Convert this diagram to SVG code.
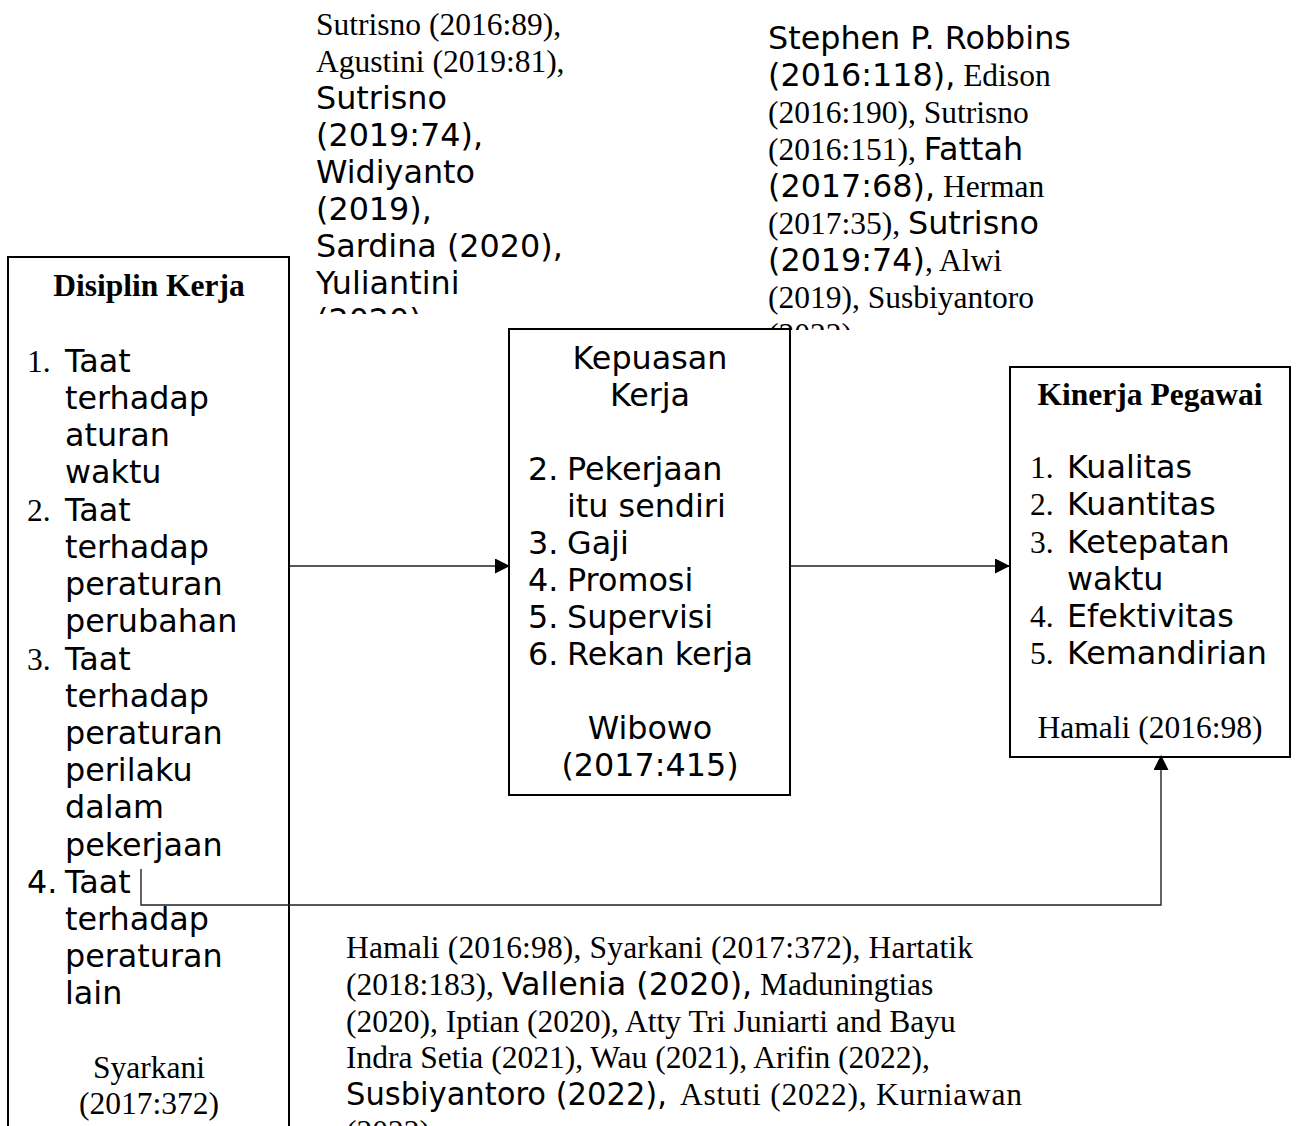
<svg xmlns="http://www.w3.org/2000/svg" width="1298" height="1126" viewBox="0 0 1298 1126">
<style>
.s{font-family:"DejaVu Sans",sans-serif;font-size:31.8px;fill:#000}
.r{font-family:"Liberation Serif",serif;font-size:31.5px;fill:#000}
.b{font-family:"Liberation Serif",serif;font-size:31.5px;font-weight:bold;fill:#000}
.box{fill:#fff;stroke:#000;stroke-width:2}
.con{fill:none;stroke:#222;stroke-width:1.4}
.c{text-anchor:middle}
</style>
<defs>
<marker id="ah" viewBox="0 0 15 15" refX="14" refY="7.5" markerWidth="15" markerHeight="15" markerUnits="userSpaceOnUse" orient="auto">
<path d="M0,0 L15,7.5 L0,15 Z" fill="#000"/>
</marker>
<clipPath id="clipTL"><rect x="300" y="0" width="300" height="314"/></clipPath>
<clipPath id="clipTR"><rect x="760" y="0" width="330" height="330"/></clipPath>
</defs>
<rect width="1298" height="1126" fill="#fff"/>

<g id="refs-top-left" clip-path="url(#clipTL)">
<text class="r" x="316" y="35">Sutrisno (2016:89),</text>
<text class="r" x="316" y="72">Agustini (2019:81),</text>
<text class="s" x="316" y="109">Sutrisno</text>
<text class="s" x="316" y="146">(2019:74),</text>
<text class="s" x="316" y="183">Widiyanto</text>
<text class="s" x="316" y="220">(2019),</text>
<text class="s" x="316" y="257">Sardina (2020),</text>
<text class="s" x="316" y="294">Yuliantini</text>
<text class="s" x="316" y="331">(2020),</text>
</g>

<g id="refs-top-right" clip-path="url(#clipTR)">
<text class="s" x="768" y="49">Stephen P. Robbins</text>
<text x="768" y="86"><tspan class="s">(2016:118),</tspan><tspan class="r"> Edison</tspan></text>
<text class="r" x="768" y="123">(2016:190), Sutrisno</text>
<text x="768" y="160"><tspan class="r">(2016:151), </tspan><tspan class="s">Fattah</tspan></text>
<text x="768" y="197"><tspan class="s">(2017:68),</tspan><tspan class="r"> Herman</tspan></text>
<text x="768" y="234"><tspan class="r">(2017:35), </tspan><tspan class="s">Sutrisno</tspan></text>
<text x="768" y="271"><tspan class="s">(2019:74)</tspan><tspan class="r">, Alwi</tspan></text>
<text class="r" x="768" y="308">(2019), Susbiyantoro</text>
<text class="r" x="768" y="345">(2022)</text>
</g>

<g id="node-disiplin">
<rect class="box" x="8" y="257" width="281" height="900"/>
<text class="b c" x="149" y="296">Disiplin Kerja</text>
<text class="r" x="27" y="372">1.</text>
<text class="s" x="65" y="372">Taat</text>
<text class="s" x="65" y="409">terhadap</text>
<text class="s" x="65" y="446">aturan</text>
<text class="s" x="65" y="483">waktu</text>
<text class="r" x="27" y="521">2.</text>
<text class="s" x="65" y="521">Taat</text>
<text class="s" x="65" y="558">terhadap</text>
<text class="s" x="65" y="595">peraturan</text>
<text class="s" x="65" y="632">perubahan</text>
<text class="r" x="27" y="670">3.</text>
<text class="s" x="65" y="670">Taat</text>
<text class="s" x="65" y="707">terhadap</text>
<text class="s" x="65" y="744">peraturan</text>
<text class="s" x="65" y="781">perilaku</text>
<text class="s" x="65" y="818">dalam</text>
<text class="s" x="65" y="856">pekerjaan</text>
<text class="s" x="27" y="893">4.</text>
<text class="s" x="65" y="893">Taat</text>
<text class="s" x="65" y="930">terhadap</text>
<text class="s" x="65" y="967">peraturan</text>
<text class="s" x="65" y="1004">lain</text>
<text class="r c" x="149" y="1078">Syarkani</text>
<text class="r c" x="149" y="1114">(2017:372)</text>
</g>

<g id="node-kepuasan">
<rect class="box" x="509" y="329" width="281" height="466"/>
<text class="s c" x="650" y="369">Kepuasan</text>
<text class="s c" x="650" y="406">Kerja</text>
<text class="s" x="528" y="480">2.</text>
<text class="s" x="567" y="480">Pekerjaan</text>
<text class="s" x="567" y="517">itu sendiri</text>
<text class="s" x="528" y="554">3.</text>
<text class="s" x="567" y="554">Gaji</text>
<text class="s" x="528" y="591">4.</text>
<text class="s" x="567" y="591">Promosi</text>
<text class="s" x="528" y="628">5.</text>
<text class="s" x="567" y="628">Supervisi</text>
<text class="s" x="528" y="665">6.</text>
<text class="s" x="567" y="665">Rekan kerja</text>
<text class="s c" x="650" y="739">Wibowo</text>
<text class="s c" x="650" y="776">(2017:415)</text>
</g>

<g id="node-kinerja">
<rect class="box" x="1010" y="367" width="280" height="390"/>
<text class="b c" x="1150" y="405">Kinerja Pegawai</text>
<text class="r" x="1030" y="478">1.</text>
<text class="s" x="1067" y="478">Kualitas</text>
<text class="r" x="1030" y="515">2.</text>
<text class="s" x="1067" y="515">Kuantitas</text>
<text class="r" x="1030" y="553">3.</text>
<text class="s" x="1067" y="553">Ketepatan</text>
<text class="s" x="1067" y="590">waktu</text>
<text class="r" x="1030" y="627">4.</text>
<text class="s" x="1067" y="627">Efektivitas</text>
<text class="r" x="1030" y="664">5.</text>
<text class="s" x="1067" y="664">Kemandirian</text>
<text class="r c" x="1150" y="738">Hamali (2016:98)</text>
</g>

<g id="refs-bottom">
<text class="r" x="346" y="958" textLength="627" lengthAdjust="spacing">Hamali (2016:98), Syarkani (2017:372), Hartatik</text>
<text x="346" y="995"><tspan class="r">(2018:183), </tspan><tspan class="s">Vallenia (2020),</tspan><tspan class="r"> Maduningtias</tspan></text>
<text class="r" x="346" y="1032">(2020), Iptian (2020), Atty Tri Juniarti and Bayu</text>
<text class="r" x="346" y="1068">Indra Setia (2021), Wau (2021), Arifin (2022),</text>
<text class="s" x="346" y="1105" textLength="321" lengthAdjust="spacingAndGlyphs">Susbiyantoro (2022),</text>
<text class="r" x="680" y="1105" textLength="342" lengthAdjust="spacing">Astuti (2022), Kurniawan</text>
<text class="r" x="346" y="1142">(2022)</text>
</g>

<g id="connectors">
<line class="con" x1="290" y1="566" x2="509" y2="566" marker-end="url(#ah)"/>
<line class="con" x1="791" y1="566" x2="1009" y2="566" marker-end="url(#ah)"/>
<polyline class="con" points="141,869 141,905 1161,905 1161,756" marker-end="url(#ah)"/>
</g>
</svg>
